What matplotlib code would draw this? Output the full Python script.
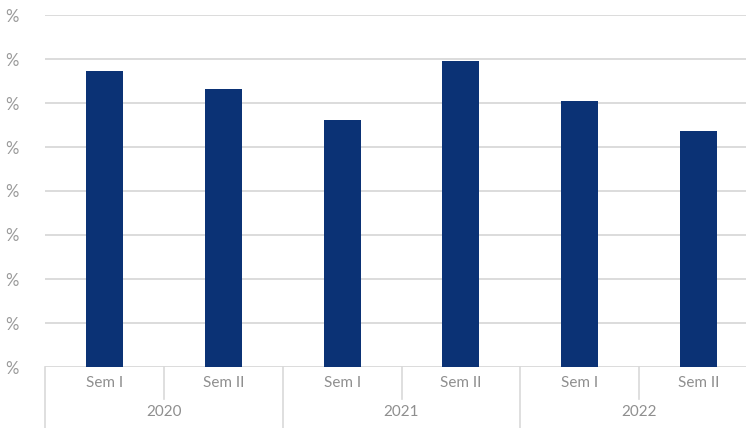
import numpy as np
import matplotlib.pyplot as plt
from matplotlib.ticker import FuncFormatter

plt.rcParams['font.family'] = ['Lato', 'DejaVu Sans']

years = ['2020', '2021', '2022']
semesters = ['Sem I', 'Sem II']
values = [6.73, 6.32, 5.61, 6.95, 6.05, 5.36]

W, H = 746, 428
fig = plt.figure(figsize=(W / 100, H / 100), dpi=100)
# plot area runs past the right edge of the picture, as in the original
ax = fig.add_axes([45 / W, 1 - 367 / H, (758 - 45) / W, (367 - 15) / H])

x = np.arange(len(values))
ax.bar(x, values, width=0.31, color='#0B3275', zorder=3)

ax.set_xlim(-0.5, len(values) - 0.5)
ax.set_ylim(0, 8)
ax.set_yticks(np.arange(0, 9, 1))
ax.yaxis.set_major_formatter(FuncFormatter(lambda v, p: '%'))
ax.grid(axis='y', color='#D9D9D9', linewidth=1.3, zorder=0)
ax.tick_params(axis='y', length=0, pad=19, labelsize=12, labelcolor='#999999')
ax.set_xticks([])
for s in ax.spines.values():
    s.set_visible(False)

gray = '#8F8F8F'
line_c = '#D9D9D9'
tr = ax.get_xaxis_transform()
# semester labels and short separators
for i in range(len(values)):
    ax.text(i, -0.045, semesters[i % 2], transform=tr, ha='center', va='center',
            fontsize=11, color=gray, clip_on=False)
for i in range(len(values) + 1):
    long_line = (i % 2 == 0)
    y1 = -0.18 if long_line else -0.09
    ax.plot([i - 0.5, i - 0.5], [0, y1], transform=tr, color=line_c,
            linewidth=1.2, clip_on=False)
# year labels
for j, yr in enumerate(years):
    ax.text(2 * j + 0.5, -0.127, yr, transform=tr, ha='center', va='center',
            fontsize=11, color=gray, clip_on=False)

fig.savefig('out.png', dpi=100)
